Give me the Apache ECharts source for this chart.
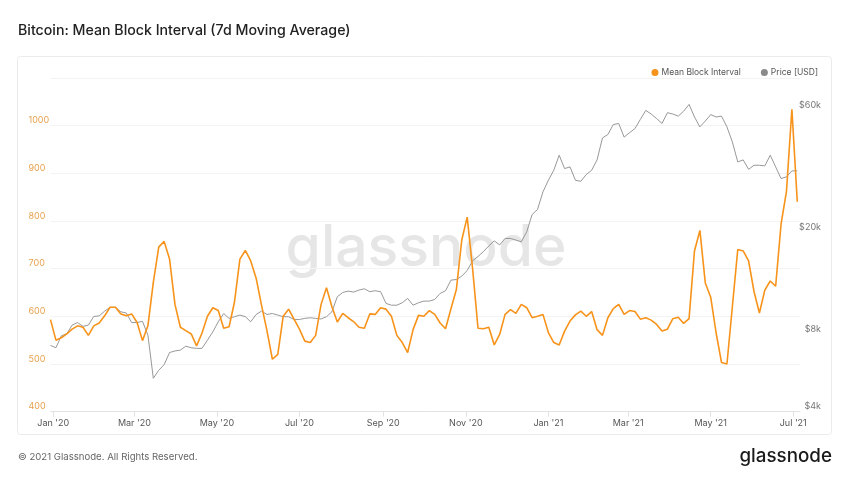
<!DOCTYPE html>
<html>
<head>
<meta charset="utf-8">
<script src="https://cdn.jsdelivr.net/npm/echarts@6/dist/echarts.min.js"></script>
<style>
  html, body { margin: 0; padding: 0; background: #fff; }
  #chart { width: 850px; height: 478px; }
</style>
</head>
<body>
<div id="chart"></div>
<script>
// sampled every 4 days starting 30 Dec 2019
const startDate = [2019, 11, 30]
const stepDays = 4

// mean block interval, seconds (7d MA)
const blockInterval = [
  593, 550, 555, 563, 573, 580, 577, 560, 580, 586,
  601, 619, 619, 605, 601, 605, 587, 549, 580, 671,
  745, 757, 720, 625, 577, 570, 563, 538,
  565, 600, 618, 612, 575, 578, 630, 720, 738, 716,
  680, 623, 570, 510, 520, 600, 615, 594, 573, 548,
  545, 560, 625, 660, 620, 588, 606, 597,
  589, 577, 575, 605, 604, 618, 615, 600, 560, 545,
  524, 572, 602, 600, 612, 604, 586, 574, 616, 656,
  760, 808, 700, 575, 574, 577, 540, 562,
  604, 614, 606, 625, 618, 597, 600, 604, 566, 545,
  540, 569, 590, 603, 611, 600, 610, 572, 560, 597,
  616, 625, 604, 612, 610, 594, 597, 592,
  583, 569, 573, 595, 598, 585, 595, 737, 780, 670,
  640, 565, 503, 500, 620, 740, 737, 716, 652, 607,
  655, 674, 663, 793, 862, 1034, 840
]

// BTC price, USD
const priceUsd = [
  7250, 7100, 7900, 8050, 8700, 8900, 8600, 8700, 9400, 9450,
  9860, 10200, 10200, 9800, 9700, 8900, 8900, 9000, 7950, 5400,
  5800, 6100, 6800, 6900, 6950, 7200, 7100, 7060,
  7060, 7600, 8190, 8960, 9650, 9240, 9380, 9520, 9380, 8960,
  9570, 9860, 9570, 9650, 9520, 9380, 9380, 9150, 9150, 9240,
  9290, 9240, 9190, 9380, 9800, 11220, 11660, 11800,
  11700, 11910, 12050, 11740, 11840, 11740, 10570, 10400, 10400, 10630,
  11050, 10400, 10630, 10790, 10790, 10950, 11560, 11840, 13020, 13100,
  13500, 14200, 15490, 16100, 16830, 17700, 18530, 17860,
  18930, 18930, 18650, 18370, 20080, 23460, 24560, 28740, 31900, 34900,
  39930, 35440, 35970, 31900, 31600, 33600, 34900, 38300, 46650, 48100,
  52600, 53100, 47000, 48900, 50700, 55100, 59700, 57800,
  55490, 53100, 58500, 57800, 56700, 59300, 63000, 56300, 51500, 54300,
  57500, 56300, 56700, 51500, 45000, 37600, 38300, 35200, 36500, 36500,
  36300, 39930, 35970, 32400, 32900, 34700, 34700
]

// x axis ticks (year, month index)
const xTicks = [[2020, 0], [2020, 2], [2020, 4], [2020, 6], [2020, 8], [2020, 10],
                [2021, 0], [2021, 2], [2021, 4], [2021, 6]]
const leftTicks = [400, 500, 600, 700, 800, 900, 1000]
const priceTicks = [4000, 8000, 20000, 60000]
const monthNames = ['Jan', 'Feb', 'Mar', 'Apr', 'May', 'Jun', 'Jul', 'Aug', 'Sep', 'Oct', 'Nov', 'Dec']

const dates = blockInterval.map((_, i) =>
  new Date(startDate[0], startDate[1], startDate[2] + i * stepDays).getTime())
const tickTimes = xTicks.map(t => new Date(t[0], t[1], 1).getTime())

const FONT = 'Inter, "Noto Sans", sans-serif'
const myChart = echarts.init(document.getElementById('chart'))

const option = {
  backgroundColor: '#fff',
  animation: false,
  textStyle: { fontFamily: FONT },
  title: {
    text: 'Bitcoin: Mean Block Interval (7d Moving Average)',
    left: 13,
    top: 19,
    textStyle: { fontFamily: FONT, fontSize: 14.2, fontWeight: 500, color: '#222' }
  },
  graphic: [
    {
      type: 'rect', z: -20, silent: true,
      shape: { x: 17.5, y: 56.5, width: 814, height: 378, r: 3 },
      style: { fill: '#fff', stroke: '#ebebeb', lineWidth: 1 }
    },
    {
      type: 'text', z: -10, silent: true,
      x: 426, y: 249,
      style: {
        text: 'glassnode', fontFamily: FONT, fontSize: 57, fontWeight: 500,
        fill: '#e6e6e6', align: 'center', verticalAlign: 'middle'
      }
    },
    {
      type: 'text', silent: true,
      x: 18, y: 457,
      style: {
        text: '© 2021 Glassnode. All Rights Reserved.', fontFamily: FONT, fontSize: 9.6,
        fill: '#666', align: 'left', verticalAlign: 'middle'
      }
    },
    {
      type: 'text', silent: true,
      x: 832, y: 456,
      style: {
        text: 'glassnode', fontFamily: FONT, fontSize: 18.8, fontWeight: 500,
        fill: '#1a1a1a', align: 'right', verticalAlign: 'middle'
      }
    }
  ],
  legend: {
    right: 27,
    top: 63,
    icon: 'circle',
    itemWidth: 7,
    itemHeight: 7,
    itemGap: 20,
    textStyle: { fontFamily: FONT, fontSize: 8.5, color: '#555', padding: [0, 0, 0, -2] },
    data: ['Mean Block Interval', 'Price [USD]']
  },
  grid: { left: 50.5, right: 50, top: 77.8, bottom: 66.3 },
  xAxis: {
    type: 'value',
    min: dates[0],
    max: new Date(2021, 6, 6).getTime(),
    axisLine: { lineStyle: { color: '#e3e3e3' } },
    axisTick: { show: true, length: 5, lineStyle: { color: '#e3e3e3' }, customValues: tickTimes },
    splitLine: { show: false },
    axisLabel: {
      customValues: tickTimes,
      fontSize: 9,
      color: '#555',
      margin: 7,
      formatter: v => {
        const d = new Date(v)
        return monthNames[d.getMonth()] + " '" + String(d.getFullYear()).slice(2)
      }
    }
  },
  yAxis: [
    {
      type: 'value',
      min: 400,
      max: 1100,
      interval: 100,
      axisLine: { show: false },
      axisTick: { show: false },
      splitLine: { lineStyle: { color: '#f3f3f3' } },
      axisLabel: {
        align: 'left',
        verticalAlign: 'bottom',
        lineHeight: 10,
        margin: 22,
        fontSize: 9,
        color: '#e9a24f',
        formatter: v => (leftTicks.includes(v) ? String(v) : '')
      }
    },
    {
      type: 'log',
      logBase: 10,
      min: 4000,
      max: 80000,
      position: 'right',
      axisLine: { show: false },
      axisTick: { show: false },
      splitLine: { show: false },
      axisLabel: {
        customValues: priceTicks,
        align: 'right',
        verticalAlign: 'bottom',
        lineHeight: 10,
        margin: 21,
        fontSize: 9,
        color: '#777',
        formatter: v => '$' + Math.round(v / 1000) + 'k'
      }
    }
  ],
  series: [
    {
      name: 'Mean Block Interval',
      type: 'line',
      yAxisIndex: 0,
      z: 3,
      showSymbol: false,
      data: dates.map((t, i) => [t, blockInterval[i]]),
      lineStyle: { color: '#f7931a', width: 1.6 },
      itemStyle: { color: '#f7931a' }
    },
    {
      name: 'Price [USD]',
      type: 'line',
      yAxisIndex: 1,
      z: 2,
      showSymbol: false,
      data: dates.map((t, i) => [t, priceUsd[i]]),
      lineStyle: { color: '#8c8c8c', width: 0.9 },
      itemStyle: { color: '#8a8a8a' }
    }
  ]
}

myChart.setOption(option)
</script>
</body>
</html>
